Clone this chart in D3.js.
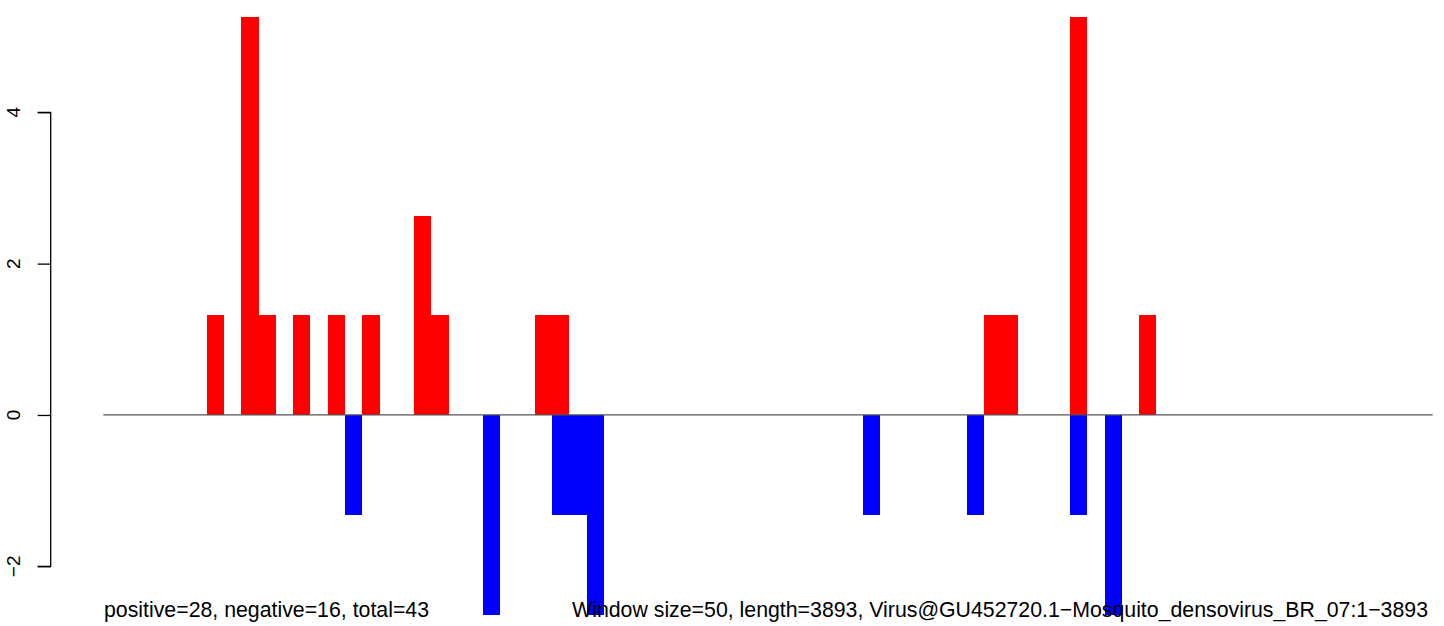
<!DOCTYPE html>
<html>
<head>
<meta charset="utf-8">
<script src="https://cdn.jsdelivr.net/npm/d3@7"></script>
<style>
  html, body { margin: 0; padding: 0; background: #fff; }
  svg { display: block; }
  text { font-family: "Liberation Sans", Arial, Helvetica, sans-serif; fill: #000; }
</style>
</head>
<body>
<svg id="chart" width="1444" height="626"></svg>
<script>
// ---- data ----
const windowCount = 77; // 50-nt windows along 3893 nt
// positive-strand values per window (index 0..76)
const positive = [
  0,0,0,0,0,0,1.32,0,5.26,1.32,
  0,1.32,0,1.32,0,1.32,0,0,2.63,1.32,
  0,0,0,0,0,1.32,1.32,0,0,0,
  0,0,0,0,0,0,0,0,0,0,
  0,0,0,0,0,0,0,0,0,0,
  0,1.32,1.32,0,0,0,5.26,0,0,0,
  1.32,0,0,0,0,0,0,0,0,0,
  0,0,0,0,0,0,0
];
// negative-strand values per window
const negative = [
  0,0,0,0,0,0,0,0,0,0,
  0,0,0,0,-1.32,0,0,0,0,0,
  0,0,-2.65,0,0,0,-1.32,-1.32,-2.65,0,
  0,0,0,0,0,0,0,0,0,0,
  0,0,0,0,-1.32,0,0,0,0,0,
  -1.32,0,0,0,0,0,-1.32,0,-2.65,0,
  0,0,0,0,0,0,0,0,0,0,
  0,0,0,0,0,0,0
];
const yTicks = [-2, 0, 2, 4];
const leftNote = "positive=28, negative=16, total=43";
const rightNote = "Window size=50, length=3893, Virus@GU452720.1\u2212Mosquito_densovirus_BR_07:1\u22123893";

// ---- layout ----
const svg = d3.select("#chart");
const windows = d3.range(windowCount);

const x = d3.scaleBand()
  .domain(windows)
  .range([103.3, 1432.7])
  .paddingInner(0).paddingOuter(0);

const y = d3.scaleLinear()
  .domain([-2, 4])
  .range([566.3, 112.3]);

// bars
const posData = windows.map(i => ({i, v: positive[i]})).filter(d => d.v !== 0);
const negData = windows.map(i => ({i, v: negative[i]})).filter(d => d.v !== 0);

svg.append("g").selectAll("rect")
  .data(posData).join("rect")
  .attr("x", d => x(d.i))
  .attr("width", x.bandwidth())
  .attr("y", d => y(d.v))
  .attr("height", d => y(0) - y(d.v))
  .attr("fill", "#ff0000")
  .attr("shape-rendering", "crispEdges");

svg.append("g").selectAll("rect")
  .data(negData).join("rect")
  .attr("x", d => x(d.i))
  .attr("width", x.bandwidth())
  .attr("y", y(0))
  .attr("height", d => y(d.v) - y(0))
  .attr("fill", "#0000ff")
  .attr("shape-rendering", "crispEdges");

// zero baseline
svg.append("line")
  .attr("x1", x.range()[0]).attr("x2", x.range()[1])
  .attr("y1", y(0)).attr("y2", y(0))
  .attr("stroke", "#555")
  .attr("stroke-width", 1.2);

// y axis
const axisG = svg.append("g")
  .attr("transform", "translate(50.7,0)")
  .call(d3.axisLeft(y).tickValues(yTicks).tickSize(13).tickFormat(""));
axisG.selectAll("path, line").attr("stroke", "#000").attr("stroke-width", 1.3);
axisG.select(".domain").attr("d", `M-13,${y(4)}H0V${y(-2)}H-13`);

svg.append("g").selectAll("text")
  .data(yTicks).join("text")
  .attr("transform", d => `translate(19.5,${y(d)}) rotate(-90)`)
  .attr("text-anchor", "middle")
  .attr("font-size", 19)
  .text(d => d < 0 ? "\u2212" + Math.abs(d) : d);

// notes at bottom
svg.append("text")
  .attr("x", 104).attr("y", 616.5)
  .attr("font-size", 21.3)
  .text(leftNote);

svg.append("text")
  .attr("x", 1428).attr("y", 616.5)
  .attr("text-anchor", "end")
  .attr("font-size", 21.3)
  .text(rightNote);
</script>
</body>
</html>
